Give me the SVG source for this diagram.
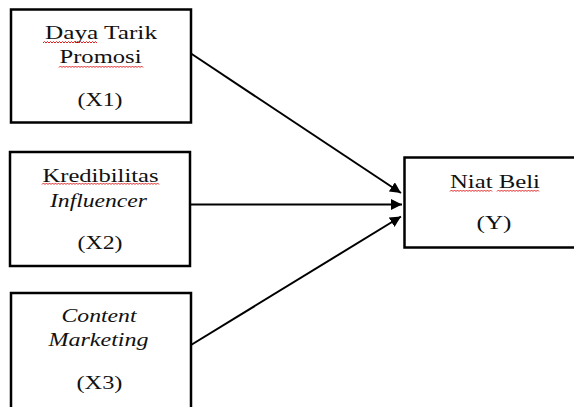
<svg xmlns="http://www.w3.org/2000/svg" width="574" height="407" viewBox="0 0 574 407">
<style>
.box{fill:#fff;stroke:#000;stroke-width:2.5}
.t{font-family:"Liberation Serif","Times New Roman",serif;font-size:18px;fill:#111;text-anchor:middle}
.i{font-style:italic}
.conn{stroke:#000;stroke-width:2;fill:none}
.sq{stroke:#e02020;stroke-width:1;fill:none}
</style>
<defs>
<marker id="ah" viewBox="0 0 10 10" refX="10" refY="5" markerWidth="5.5" markerHeight="5.5" orient="auto" markerUnits="strokeWidth">
<path d="M0,0 L10,5 L0,10 z" fill="#000"/>
</marker>
</defs>
<rect width="574" height="407" fill="#fff"/>
<g id="x1">
<rect class="box" x="11" y="9.5" width="180" height="113"/>
<text class="t" x="101" y="39" textLength="112" lengthAdjust="spacingAndGlyphs">Daya Tarik</text>
<text class="t" x="100.5" y="63" textLength="82" lengthAdjust="spacingAndGlyphs">Promosi</text>
<text class="t" x="100" y="106" textLength="45" lengthAdjust="spacingAndGlyphs">(X1)</text>
<path class="sq" d="M43,43 l1.5,-1.5 1.5,1.5 1.5,-1.5 1.5,1.5 1.5,-1.5 1.5,1.5 1.5,-1.5 1.5,1.5 1.5,-1.5 1.5,1.5 1.5,-1.5 1.5,1.5 1.5,-1.5 1.5,1.5 1.5,-1.5 1.5,1.5 1.5,-1.5 1.5,1.5 1.5,-1.5 1.5,1.5 1.5,-1.5 1.5,1.5 1.5,-1.5 1.5,1.5 1.5,-1.5 1.5,1.5 1.5,-1.5 1.5,1.5 1.5,-1.5 1.5,1.5 1.5,-1.5 1.5,1.5 1.5,-1.5 1.5,1.5 1.5,-1.5 1.5,1.5"/>
<path class="sq" d="M59,67.5 l1.5,-1.5 1.5,1.5 1.5,-1.5 1.5,1.5 1.5,-1.5 1.5,1.5 1.5,-1.5 1.5,1.5 1.5,-1.5 1.5,1.5 1.5,-1.5 1.5,1.5 1.5,-1.5 1.5,1.5 1.5,-1.5 1.5,1.5 1.5,-1.5 1.5,1.5 1.5,-1.5 1.5,1.5 1.5,-1.5 1.5,1.5 1.5,-1.5 1.5,1.5 1.5,-1.5 1.5,1.5 1.5,-1.5 1.5,1.5 1.5,-1.5 1.5,1.5 1.5,-1.5 1.5,1.5 1.5,-1.5 1.5,1.5 1.5,-1.5 1.5,1.5 1.5,-1.5 1.5,1.5 1.5,-1.5 1.5,1.5 1.5,-1.5 1.5,1.5 1.5,-1.5 1.5,1.5 1.5,-1.5 1.5,1.5 1.5,-1.5 1.5,1.5 1.5,-1.5 1.5,1.5 1.5,-1.5 1.5,1.5 1.5,-1.5 1.5,1.5 1.5,-1.5 1.5,1.5"/>
</g>
<g id="x2">
<rect class="box" x="10" y="152" width="180" height="114"/>
<text class="t" x="100.5" y="181.5" textLength="116" lengthAdjust="spacingAndGlyphs">Kredibilitas</text>
<text class="t i" x="98.5" y="206.5" textLength="97" lengthAdjust="spacingAndGlyphs">Influencer</text>
<text class="t" x="100" y="249" textLength="45" lengthAdjust="spacingAndGlyphs">(X2)</text>
<path class="sq" d="M42,184.5 l1.5,-1.5 1.5,1.5 1.5,-1.5 1.5,1.5 1.5,-1.5 1.5,1.5 1.5,-1.5 1.5,1.5 1.5,-1.5 1.5,1.5 1.5,-1.5 1.5,1.5 1.5,-1.5 1.5,1.5 1.5,-1.5 1.5,1.5 1.5,-1.5 1.5,1.5 1.5,-1.5 1.5,1.5 1.5,-1.5 1.5,1.5 1.5,-1.5 1.5,1.5 1.5,-1.5 1.5,1.5 1.5,-1.5 1.5,1.5 1.5,-1.5 1.5,1.5 1.5,-1.5 1.5,1.5 1.5,-1.5 1.5,1.5 1.5,-1.5 1.5,1.5 1.5,-1.5 1.5,1.5 1.5,-1.5 1.5,1.5 1.5,-1.5 1.5,1.5 1.5,-1.5 1.5,1.5 1.5,-1.5 1.5,1.5 1.5,-1.5 1.5,1.5 1.5,-1.5 1.5,1.5 1.5,-1.5 1.5,1.5 1.5,-1.5 1.5,1.5 1.5,-1.5 1.5,1.5 1.5,-1.5 1.5,1.5 1.5,-1.5 1.5,1.5 1.5,-1.5 1.5,1.5 1.5,-1.5 1.5,1.5 1.5,-1.5 1.5,1.5 1.5,-1.5 1.5,1.5 1.5,-1.5 1.5,1.5 1.5,-1.5 1.5,1.5 1.5,-1.5 1.5,1.5 1.5,-1.5 1.5,1.5 1.5,-1.5 1.5,1.5"/>
</g>
<g id="x3">
<rect class="box" x="11" y="293" width="180" height="130"/>
<text class="t i" x="99" y="321.5" textLength="75" lengthAdjust="spacingAndGlyphs">Content</text>
<text class="t i" x="98.5" y="345.5" textLength="100" lengthAdjust="spacingAndGlyphs">Marketing</text>
<text class="t" x="99.5" y="389" textLength="46" lengthAdjust="spacingAndGlyphs">(X3)</text>
</g>
<g id="y">
<rect class="box" x="404.5" y="157.5" width="175" height="90"/>
<text class="t" x="495" y="188" textLength="90" lengthAdjust="spacingAndGlyphs">Niat Beli</text>
<text class="t" x="494" y="229" textLength="35" lengthAdjust="spacingAndGlyphs">(Y)</text>
<path class="sq" d="M450,191.5 l1.5,-1.5 1.5,1.5 1.5,-1.5 1.5,1.5 1.5,-1.5 1.5,1.5 1.5,-1.5 1.5,1.5 1.5,-1.5 1.5,1.5 1.5,-1.5 1.5,1.5 1.5,-1.5 1.5,1.5 1.5,-1.5 1.5,1.5 1.5,-1.5 1.5,1.5 1.5,-1.5 1.5,1.5 1.5,-1.5 1.5,1.5 1.5,-1.5 1.5,1.5 1.5,-1.5 1.5,1.5 1.5,-1.5 1.5,1.5"/>
<path class="sq" d="M497,191.5 l1.5,-1.5 1.5,1.5 1.5,-1.5 1.5,1.5 1.5,-1.5 1.5,1.5 1.5,-1.5 1.5,1.5 1.5,-1.5 1.5,1.5 1.5,-1.5 1.5,1.5 1.5,-1.5 1.5,1.5 1.5,-1.5 1.5,1.5 1.5,-1.5 1.5,1.5 1.5,-1.5 1.5,1.5 1.5,-1.5 1.5,1.5 1.5,-1.5 1.5,1.5 1.5,-1.5 1.5,1.5 1.5,-1.5 1.5,1.5"/>
</g>
<g id="connectors">
<line class="conn" x1="191" y1="53.5" x2="401" y2="193" marker-end="url(#ah)"/>
<line class="conn" x1="191" y1="204.5" x2="402" y2="204.5" marker-end="url(#ah)"/>
<line class="conn" x1="191" y1="345" x2="401" y2="216.5" marker-end="url(#ah)"/>
</g>
</svg>
